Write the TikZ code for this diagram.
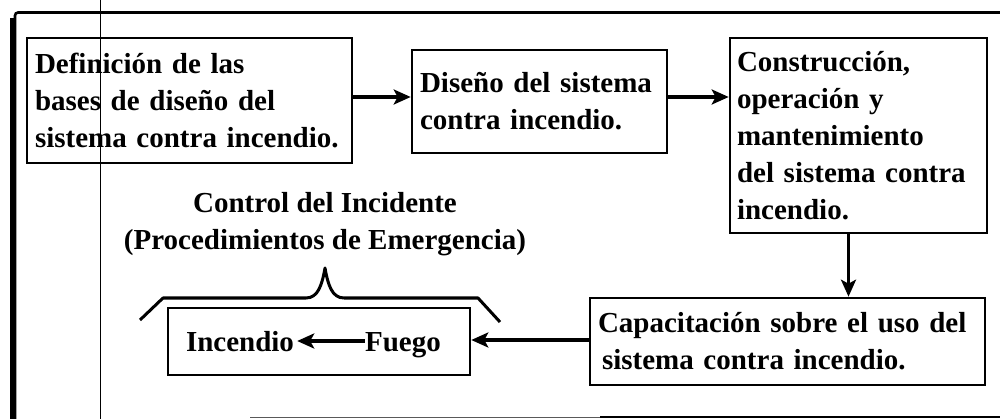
\documentclass[tikz,border=0pt]{standalone}
\usepackage{fontspec}
\setmainfont{Liberation Serif}
\usetikzlibrary{arrows.meta}
\begin{document}
\begin{tikzpicture}[x=1pt,y=-1pt,
  stepbox/.style={draw,line width=2.6pt,align=left,inner sep=0pt,
    font=\fontsize{29}{37}\selectfont\bfseries},
  plain/.style={inner sep=0pt,font=\fontsize{29}{37}\selectfont\bfseries},
  arr/.style={line width=3.2pt,-{Stealth[length=17pt,width=15pt,inset=4pt]}},
  frame/.style={line width=2.6pt}]
\useasboundingbox (0,0) rectangle (1000,419);
% outer frame
\draw[frame,rounded corners=3pt] (1000,12.5) -- (15,12.5) -- (15,419);
\draw[line width=6pt] (13,18) -- (13,419);
\draw[frame] (600,417) -- (1000,417);
\draw[line width=1pt,gray!70!black] (250,417) -- (600,417);
\draw[line width=0.8pt] (100,0) -- (100,419);
% boxes
\node[stepbox,minimum width=325pt,minimum height=125pt,text width=309pt]
  (b1) at (189.5,100.5) {Definición de las\\bases de diseño del\\sistema contra incendio.};
\node[stepbox,minimum width=255pt,minimum height=103pt,text width=239pt]
  (b2) at (539.5,101.5) {Diseño del sistema\\contra incendio.};
\node[stepbox,minimum width=257pt,minimum height=195pt,text width=243pt]
  (b3) at (858.5,135.5) {Construcción,\\operación y\\mantenimiento\\del sistema contra\\incendio.};
\node[stepbox,minimum width=395pt,minimum height=87pt,text width=379pt]
  (b5) at (787.5,341.5) {Capacitación sobre el uso del\\\hspace*{4pt}sistema contra incendio.};
\node[draw,line width=2.6pt,minimum width=302pt,minimum height=67pt]
  (b4) at (319,341.5) {};
\node[plain,anchor=base] (inc) at (240,351) {Incendio};
\node[plain,anchor=base] (fue) at (403,351) {Fuego};
% title
\node[plain,align=center] (ttl) at (325,224)
  {Control del Incidente\\(Procedimientos de Emergencia)};
% brace
\draw[line width=3pt,line join=round]
  (140,320) -- (163,298) -- (306,298)
  .. controls (318,298) and (322,285) .. (325,268)
  .. controls (328,285) and (332,298) .. (344,298)
  -- (478,298) -- (500,322);
% connectors
\draw[arr] ([yshift=3.5pt]b1.east) -- ([yshift=3.5pt]b1.east -| b2.west);
\draw[arr] ([yshift=4.5pt]b2.east) -- ([yshift=4.5pt]b2.east -| b3.west);
\draw[arr] ([xshift=-10pt]b3.south) -- ([xshift=-10pt]b3.south |- b5.north);
\draw[arr] ([yshift=1.5pt]b5.west) -- ([yshift=1.5pt]b4.east);
\draw[arr] ([yshift=10pt]fue.base west) -- ([xshift=3pt,yshift=10pt]inc.base east);
\end{tikzpicture}
\end{document}
